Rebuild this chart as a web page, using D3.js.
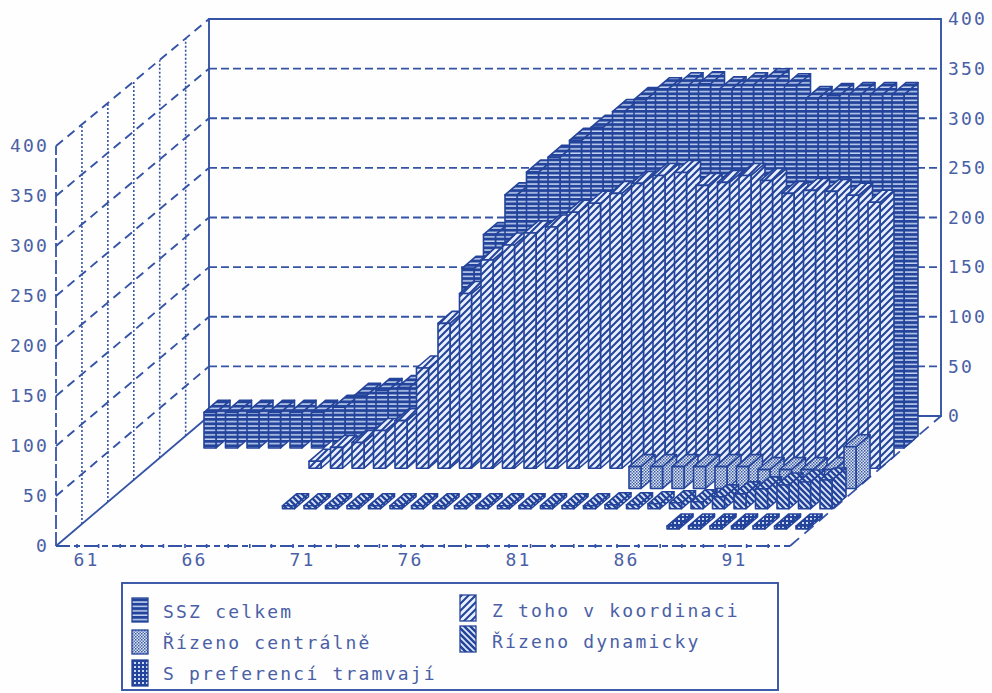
<!DOCTYPE html>
<html>
<head>
<meta charset="utf-8">
<script src="https://cdn.jsdelivr.net/npm/d3@7/dist/d3.min.js"></script>
<style>
html,body{margin:0;padding:0;background:#fefefe}
svg{display:block}
text{font-family:"DejaVu Sans Mono",monospace;font-size:18px;letter-spacing:2.2px;fill:#4a60a6}
</style>
</head>
<body>
<svg id="chart" width="992" height="693"></svg>
<script>
// Traffic signal counts by year, 1961-1993, one array per depth row.
const years = d3.range(1961, 1994);
const tickYears = [1961, 1966, 1971, 1976, 1981, 1986, 1991];
const valueTicks = [0, 50, 100, 150, 200, 250, 300, 350, 400];

const n = null;
const ssz = [36,36,36,36,36,36,41,53,58,61,64,121,181,215,255,278,293,310,323,339,351,361,366,367,362,366,370,365,352,355,356,356,356];
const koordinace = [n,n,n,n,n,n,7,21,26,38,48,101,146,176,210,225,237,243,258,267,277,287,295,298,285,288,295,290,277,280,279,275,268];
const centralne = [n,n,n,n,n,n,n,n,n,n,n,n,n,n,n,n,n,n,n,n,n,n,22,22,22,22,22,22,19,19,19,19,42];
const dynamicky = [n,n,n,n,n,n,n,3,3,3,3,3,3,3,3,3,3,3,3,3,3,3,4,4,5,6,7,12,15,20,24,27,29];
const preference = [n,n,n,n,n,n,n,n,n,n,n,n,n,n,n,n,n,n,n,n,n,n,n,n,n,n,3,3,3,3,3,3,3];

const ink = "#24449b", lineInk = "#3554a6";

// Rows are listed back to front, which is also the paint order.
const rows = [
  {values: ssz, pattern: "hStripes", label: "SSZ celkem"},
  {values: koordinace, pattern: "upHatch", label: "Z toho v koordinaci"},
  {values: centralne, pattern: "dots", label: "Řízeno centrálně"},
  {values: dynamicky, pattern: "downHatch", label: "Řízeno dynamicky"},
  {values: preference, pattern: "grid", label: "S preferencí tramvají"}
];

const svg = d3.select("#chart");
const defs = svg.append("defs");

function addPattern(id, w, h, bg, draw) {
  const p = defs.append("pattern").attr("id", id).attr("patternUnits", "userSpaceOnUse")
    .attr("width", w).attr("height", h);
  p.append("rect").attr("width", w).attr("height", h).attr("fill", bg);
  draw(p);
}
addPattern("hStripes", 6, 4.4, "#c3d3f0", p =>
  p.append("rect").attr("width", 6).attr("height", 2.9).attr("fill", ink));
addPattern("upHatch", 7, 7, "#e9f0fb", p =>
  p.append("path").attr("d", "M-1,8L8,-1M-4,4L4,-4M3,11L11,3").attr("stroke", ink).attr("stroke-width", 2.1));
addPattern("downHatch", 6, 6, "#e0e9f8", p =>
  p.append("path").attr("d", "M-1,-1L7,7M-4,2L2,8M4,-2L8,2").attr("stroke", ink).attr("stroke-width", 2.6));
addPattern("dots", 3, 3, "#dfe7f7", p => {
  p.append("rect").attr("width", 1.5).attr("height", 1.5).attr("fill", "#39589f");
  p.append("rect").attr("x", 1.5).attr("y", 1.5).attr("width", 1.5).attr("height", 1.5).attr("fill", "#5370b4");
});
addPattern("grid", 4, 4, "#cddaf3", p => {
  p.append("rect").attr("width", 4).attr("height", 2).attr("fill", ink);
  p.append("rect").attr("width", 2).attr("height", 4).attr("fill", ink);
});

// Box geometry: front wall edges of the plot, then wall-to-wall depth.
const origin = {x: 56, y: 546}, back = {x: 209, y: 416};
const rightFront = 790, rightBack = 941, wallTop = 19;

const leftY = d3.scaleLinear().domain([0, 400]).range([origin.y, 146]);
const backY = d3.scaleLinear().domain([0, 400]).range([back.y, wallTop]);
const barHeight = d3.scaleLinear().domain([0, 400]).range([0, 397]);

// Bars are placed on the year scale, then offset by the row they sit in.
const rowX = d3.scaleLinear().domain([0, 4]).range([0, -96]);
const rowBase = d3.scaleLinear().domain([0, 4]).range([448, 529]);
const yearX = d3.scaleLinear().domain([1961, 1993]).range([204, 892]);
const labelX = d3.scaleLinear().domain([1961, 1991]).range([85, 733]);
const barW = 12, depthX = 14, depthY = 12;

// Grid on the three walls
const grid = svg.append("g").attr("fill", "none").attr("stroke", lineInk);

valueTicks.filter(v => v > 0 && v < 400).forEach(v => {
  grid.append("line").attr("x1", back.x).attr("x2", rightBack).attr("y1", backY(v)).attr("y2", backY(v))
    .attr("stroke-width", 1.9).attr("stroke-dasharray", "8 4");
});
valueTicks.filter(v => v > 0).forEach(v => {
  grid.append("line").attr("x1", origin.x).attr("y1", leftY(v)).attr("x2", back.x).attr("y2", backY(v))
    .attr("stroke-width", 1.9).attr("stroke-dasharray", "9 6");
});
d3.range(1, 6).forEach(i => {
  const t = i / 5.9;
  const x = origin.x + t * (back.x - origin.x);
  grid.append("line").attr("x1", x).attr("x2", x)
    .attr("y1", origin.y + t * (back.y - origin.y))
    .attr("y2", leftY(400) + t * (wallTop - leftY(400)))
    .attr("stroke-width", 1.6).attr("stroke-dasharray", "2 2");
});
grid.append("line").attr("x1", origin.x).attr("x2", origin.x).attr("y1", origin.y).attr("y2", leftY(400))
  .attr("stroke-width", 1.8).attr("stroke-dasharray", "14 3");
grid.append("line").attr("x1", origin.x).attr("y1", origin.y).attr("x2", back.x).attr("y2", back.y).attr("stroke-width", 1.8);
grid.append("path").attr("d", `M${back.x},${back.y}V${wallTop}H${rightBack}V${back.y}H${back.x}`).attr("stroke-width", 1.9);
grid.append("line").attr("x1", origin.x).attr("x2", rightFront).attr("y1", origin.y).attr("y2", origin.y)
  .attr("stroke-width", 1.8).attr("stroke-dasharray", "14 4 6 4");
grid.append("line").attr("x1", rightFront).attr("y1", origin.y).attr("x2", rightBack).attr("y2", back.y)
  .attr("stroke-width", 1.8).attr("stroke-dasharray", "12 7");
// Year marks along the front edge
grid.selectAll("line.year").data(years).join("line").attr("class", "year")
  .attr("x1", d => labelX(d) - 8).attr("x2", d => labelX(d) - 8)
  .attr("y1", origin.y - 2).attr("y2", origin.y + 2).attr("stroke-width", 1.6);

// Bars: every cuboid is a front face, a right side and a top.
const barLayer = svg.append("g").attr("stroke", ink).attr("stroke-width", 1.6).attr("stroke-linejoin", "round");
rows.forEach((row, r) => {
  const base = rowBase(r);
  row.values.forEach((v, i) => {
    if (v === null) return;
    const x = yearX(years[i]) + rowX(r);
    const top = base - barHeight(v);
    const g = barLayer.append("g").attr("fill", `url(#${row.pattern})`);
    const side = d3.path();
    side.moveTo(x + barW, base); side.lineTo(x + barW, top);
    side.lineTo(x + barW + depthX, top - depthY); side.lineTo(x + barW + depthX, base - depthY); side.closePath();
    const lid = d3.path();
    lid.moveTo(x, top); lid.lineTo(x + barW, top);
    lid.lineTo(x + barW + depthX, top - depthY); lid.lineTo(x + depthX, top - depthY); lid.closePath();
    g.append("path").attr("d", side.toString());
    g.append("path").attr("d", lid.toString());
    g.append("rect").attr("x", x).attr("y", top).attr("width", barW).attr("height", base - top);
  });
});

// Axis labels
function cleanAxis(sel) {
  sel.select(".domain").remove();
  sel.selectAll(".tick line").remove();
  sel.attr("font-family", null).attr("font-size", null);
}
const leftAxis = d3.axisLeft(leftY).tickValues(valueTicks).tickSize(0).tickPadding(0);
svg.append("g").attr("transform", "translate(49,0)").call(leftAxis).call(cleanAxis);
const rightAxis = d3.axisRight(backY).tickValues(valueTicks).tickSize(0).tickPadding(0);
svg.append("g").attr("transform", "translate(948,0)").call(rightAxis).call(cleanAxis);
const bottomAxis = d3.axisBottom(labelX).tickValues(tickYears).tickSize(0).tickPadding(0)
  .tickFormat(d => String(d).slice(2));
svg.append("g").attr("transform", "translate(1,553)").call(bottomAxis).call(cleanAxis);

// Legend
const legend = svg.append("g");
legend.append("rect").attr("x", 122).attr("y", 583).attr("width", 656).attr("height", 107)
  .attr("fill", "none").attr("stroke", lineInk).attr("stroke-width", 1.9);
const legendCells = [
  {row: 0, sx: 132, sy: 598, sh: 24, tx: 163, ty: 618},
  {row: 2, sx: 132, sy: 630, sh: 24, tx: 163, ty: 649},
  {row: 4, sx: 132, sy: 660, sh: 26, tx: 163, ty: 680},
  {row: 1, sx: 460, sy: 595, sh: 26, tx: 492, ty: 617},
  {row: 3, sx: 460, sy: 626, sh: 26, tx: 492, ty: 648}
];
legend.selectAll("rect.key").data(legendCells).join("rect").attr("class", "key")
  .attr("x", d => d.sx).attr("y", d => d.sy).attr("width", 16).attr("height", d => d.sh)
  .attr("fill", d => `url(#${rows[d.row].pattern})`).attr("stroke", ink).attr("stroke-width", 1.3);
legend.selectAll("text").data(legendCells).join("text")
  .attr("x", d => d.tx).attr("y", d => d.ty).text(d => rows[d.row].label);
</script>
</body>
</html>
